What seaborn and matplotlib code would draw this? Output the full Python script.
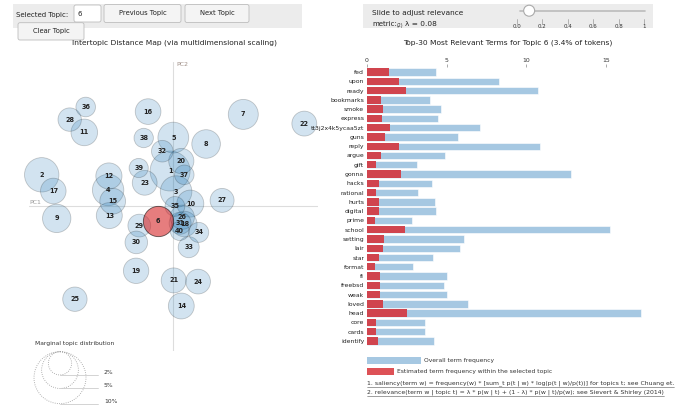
import matplotlib
matplotlib.use("Agg")
import matplotlib.pyplot as plt
from matplotlib.patches import Circle, Rectangle, FancyBboxPatch
import numpy as np
import pandas as pd
import seaborn as sns

sns.set_theme(style="white")
plt.rcParams['font.family'] = ['DejaVu Sans']

# ---- intertopic map data (PC coordinates + marginal topic share in %) ----
topics = list(range(1, 41))
pc1 = [-0.008, -0.329, 0.007, -0.163, 0.000, -0.0375, 0.175, 0.082, -0.2915, 0.0425,
       -0.2225, -0.161, -0.160, 0.020, -0.1515, -0.063, -0.300, 0.0275, -0.093, 0.020,
       0.001, 0.3275, -0.0715, 0.062, -0.246, 0.0225, 0.122, -0.259, -0.085, -0.0925,
       0.017, -0.0275, 0.0385, 0.0635, 0.004, -0.219, 0.0275, -0.074, -0.0865, 0.016]
pc2 = [0.0875, 0.078, 0.036, 0.040, 0.171, -0.0375, 0.229, 0.155, -0.031, 0.006,
       0.184, 0.075, -0.024, -0.250, 0.012, 0.236, 0.0375, -0.045, -0.162, 0.1125,
       -0.186, 0.206, 0.058, -0.189, -0.233, -0.028, 0.014, 0.216, -0.049, -0.091,
       -0.043, 0.137, -0.103, -0.066, -0.001, 0.2475, 0.078, 0.170, 0.095, -0.0625]
topic_share = [5.92, 4.38, 3.69, 3.65, 3.51, 3.40, 3.33, 3.03, 2.98, 2.70,
               2.62, 2.54, 2.50, 2.48, 2.46, 2.44, 2.42, 2.41, 2.39, 2.35,
               2.31, 2.29, 2.28, 2.26, 2.20, 2.17, 2.13, 2.03, 1.92, 1.89,
               1.79, 1.73, 1.63, 1.48, 1.45, 1.42, 1.41, 1.39, 1.36, 1.34]
selected = 6
lam = 0.08

# ---- top-30 terms for the selected topic ----
terms = ['fed', 'upon', 'ready', 'bookmarks', 'smoke', 'express', 'tt3j2x4k5ycaa5zt',
         'guns', 'reply', 'argue', 'gift', 'gonna', 'hacks', 'rational', 'hurts',
         'digital', 'prime', 'school', 'setting', 'lair', 'star', 'format', 'fi',
         'freebsd', 'weak', 'loved', 'head', 'core', 'cards', 'identify']
overall_freq = [4.36, 8.30, 10.75, 3.98, 4.65, 4.47, 7.07, 5.72, 10.88, 4.91,
                3.12, 12.79, 4.05, 3.21, 4.26, 4.32, 2.81, 15.28, 6.12, 5.81,
                4.17, 2.89, 5.01, 4.84, 5.03, 6.31, 17.23, 3.65, 3.63, 4.21]
topic_freq = [1.36, 2.01, 2.45, 0.88, 1.03, 0.96, 1.43, 1.15, 2.03, 0.90,
              0.59, 2.16, 0.75, 0.59, 0.78, 0.78, 0.52, 2.41, 1.05, 0.99,
              0.73, 0.52, 0.84, 0.80, 0.84, 1.01, 2.49, 0.59, 0.59, 0.69]
bar_ticks = [0, 5, 10, 15]
lam_ticks = [0.0, 0.2, 0.4, 0.6, 0.8, 1.0]
lam_labels = ['0.0', '0.2', '0.4', '0.6', '0.8', '1']
legend_pcts = [2, 5, 10]

W, H = 684, 405
DPI = 100
R_PX = 8.22  # circle radius in px per sqrt(%)

BLUE = '#1f77b4'
RED = '#d62728'
BAR_BLUE = '#a6c8e2'
BAR_RED = '#d0444e'

fig = plt.figure(figsize=(W / DPI, H / DPI), dpi=DPI)


def frame(l, t, r, b):
    return [l / W, 1 - b / H, (r - l) / W, (b - t) / H]


# overlay in pixel units for the widgets/legends
ui = fig.add_axes([0, 0, 1, 1])
ui.set_xlim(0, W)
ui.set_ylim(H, 0)
ui.axis('off')

ui.add_patch(Rectangle((13, 4), 289, 24, color='#ececec', lw=0))
ui.add_patch(Rectangle((363, 4), 290, 24, color='#ececec', lw=0))


def button(x0, y0, x1, y1, label, fc='#f4f4f4'):
    ui.add_patch(FancyBboxPatch((x0, y0), x1 - x0, y1 - y0,
                                boxstyle='round,pad=0,rounding_size=2',
                                fc=fc, ec='#bdbdbd', lw=0.6))
    if label:
        ui.text((x0 + x1) / 2, (y0 + y1) / 2, label, ha='center', va='center',
                fontsize=4.9, color='#222')


ui.text(16, 14.5, 'Selected Topic:', ha='left', va='center', fontsize=5.0, color='#222')
button(74, 5, 101, 22, '', fc='white')
ui.text(78, 14, str(selected), ha='left', va='center', fontsize=5.0, color='#222')
button(104, 4.5, 181, 22.5, 'Previous Topic')
button(185, 4.5, 249, 22.5, 'Next Topic')
button(18, 22.7, 84, 40, 'Clear Topic')

ui.text(174, 43, 'Intertopic Distance Map (via multidimensional scaling)',
        ha='center', va='center', fontsize=5.4, color='#222')
ui.text(508, 43, 'Top-30 Most Relevant Terms for Topic %d (3.4%% of tokens)' % selected,
        ha='center', va='center', fontsize=5.4, color='#222')

# relevance slider
ui.text(372, 13, 'Slide to adjust relevance', ha='left', va='center', fontsize=5.3, color='#222')
ui.text(372, 24.5, 'metric:', ha='left', va='center', fontsize=5.0, color='#222')
ui.text(397, 25.5, '(2)', ha='left', va='center', fontsize=3.3, color='#222')
ui.text(405, 24, '\u03bb = %.2f' % lam, ha='left', va='center', fontsize=5.3, color='#222')
sx0, sx1 = 517, 644
ui.plot([sx0 + 3, 645], [10.7, 10.7], color='#bbbbbb', lw=1.2)
for v, lab in zip(lam_ticks, lam_labels):
    tx = sx0 + v * (sx1 - sx0)
    ui.plot([tx, tx], [19, 23.5], color='#999999', lw=0.5)
    ui.text(tx, 27, lab, ha='center', va='center', fontsize=4.0, color='#333')
ui.add_patch(Circle((sx0 + lam * (sx1 - sx0) + 2, 10.7), 5.5, fc='white', ec='#aaaaaa', lw=0.8, zorder=5))

# marginal topic distribution legend
ui.text(35, 343.3, 'Marginal topic distribution', ha='left', va='center', fontsize=4.3, color='#333')
for p in legend_pcts:
    r = R_PX * np.sqrt(p)
    cy = 351.7 + r
    ui.add_patch(Circle((60, cy), r, fill=False, ls=':', ec='#999999', lw=0.6))
    ui.plot([60, 98], [cy + r, cy + r], color='#cccccc', lw=0.6)
    ui.text(104, cy + r - 2.5, '%d%%' % p, ha='left', va='center', fontsize=4.3, color='#333')

ui.text(29, 202, 'PC1', ha='left', va='center', fontsize=4.5, color='#9a9a9a')
ui.text(176, 64, 'PC2', ha='left', va='center', fontsize=4.5, color='#a09088')

# ---- intertopic distance map ----
df = pd.DataFrame({'topic': topics, 'pc1': pc1, 'pc2': pc2, 'share': topic_share})
ax = fig.add_axes(frame(29, 62, 318, 351))
ax.axhline(0, color='#dddddd', lw=0.8, zorder=0)
ax.axvline(0, color='#dddddd', lw=0.8, zorder=0)

smin, smax = df['share'].min(), df['share'].max()
k = (2 * R_PX * 72 / DPI) ** 2
size_kw = dict(size='share', sizes=(k * smin, k * smax), size_norm=(smin, smax), legend=False)

sns.scatterplot(data=df[df['topic'] != selected], x='pc1', y='pc2', color=BLUE, alpha=0.2,
                edgecolor='black', linewidth=0.6, clip_on=False, ax=ax, **size_kw)
sns.scatterplot(data=df[df['topic'] == selected], x='pc1', y='pc2', color=RED, alpha=0.6,
                edgecolor='black', linewidth=0.6, clip_on=False, ax=ax, **size_kw)
for _, row in df.iterrows():
    ax.text(row['pc1'], row['pc2'], str(int(row['topic'])), ha='center', va='center',
            fontsize=4.7, fontweight='bold', color='#222', zorder=6)
ax.set_xlim(-0.36075, 0.36175)
ax.set_ylim(-0.3625, 0.36)
ax.axis('off')

# ---- relevant terms bar chart ----
bar = fig.add_axes(frame(367, 67.4, 642.6, 345.6))
sns.barplot(x=overall_freq, y=terms, orient='h', color=BAR_BLUE, saturation=1, width=0.8,
            edgecolor='white', linewidth=0.4, ax=bar)
sns.barplot(x=topic_freq, y=terms, orient='h', color=BAR_RED, saturation=1, width=0.8,
            linewidth=0, ax=bar)
bar.set_xlim(0, 17.3)
bar.xaxis.tick_top()
bar.set_xticks(bar_ticks)
bar.set_xticklabels([str(t) for t in bar_ticks])
bar.tick_params(axis='x', labelsize=4.4, length=2, width=0.5, color='#888', pad=1.5, labelcolor='#333')
bar.tick_params(axis='y', labelsize=4.4, length=0, pad=2, labelcolor='#222')
bar.set_xlabel('')
bar.set_ylabel('')
for s in bar.spines.values():
    s.set_visible(False)

# bar legend and footnotes
ui.add_patch(Rectangle((367, 356.7), 54, 7.6, color=BAR_BLUE, lw=0))
ui.text(424, 360.5, 'Overall term frequency', ha='left', va='center', fontsize=4.3, color='#333')
ui.add_patch(Rectangle((367, 367.7), 27, 7.6, color='#dd5156', lw=0))
ui.text(397, 371.5, 'Estimated term frequency within the selected topic', ha='left', va='center',
        fontsize=4.3, color='#333')
notes = ['1. saliency(term w) = frequency(w) * [sum_t p(t | w) * log(p(t | w)/p(t))] for topics t; see Chuang et.',
         '2. relevance(term w | topic t) = \u03bb * p(w | t) + (1 - \u03bb) * p(w | t)/p(w); see Sievert & Shirley (2014)']
note_texts = []
for i, n in enumerate(notes):
    note_texts.append(ui.text(367, 383.3 + 9 * i, n, ha='left', va='center', fontsize=4.4, color='#333'))

fig.canvas.draw()
inv = ui.transData.inverted()
for t in note_texts:
    bb = t.get_window_extent()
    (x0, _), (x1, _) = inv.transform([[bb.x0, bb.y0], [bb.x1, bb.y0]])
    y = t.get_position()[1] + 3.2
    ui.plot([x0, x1], [y, y], color='#555', lw=0.4)

fig.savefig('out.png', dpi=DPI)
